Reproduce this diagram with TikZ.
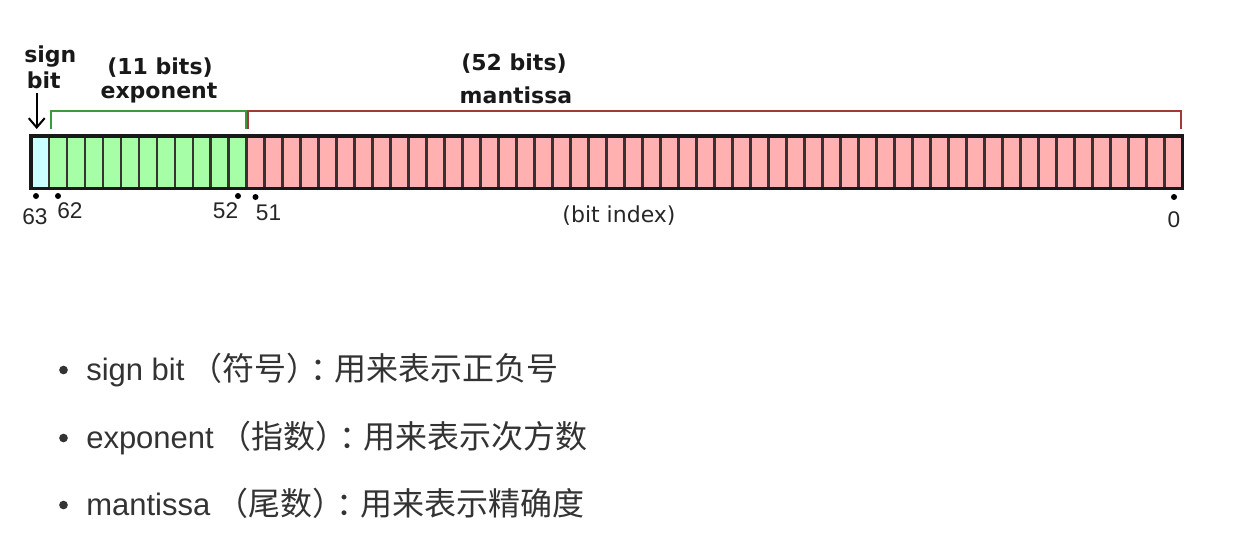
\documentclass[tikz,border=0pt]{standalone}
\usepackage{fontspec}
\setmainfont{Liberation Sans}
\newfontfamily\dvs{DejaVu Sans}
\newfontfamily\lib{Liberation Sans}
\newfontfamily\cjk{Noto Sans CJK SC}
\usetikzlibrary{arrows.meta}
\definecolor{signc}{HTML}{CCFFFF}
\definecolor{expc}{HTML}{A6FFA6}
\definecolor{manc}{HTML}{FFB0B0}
\definecolor{gbr}{HTML}{3C9A3C}
\definecolor{rbr}{HTML}{A33A3A}
\definecolor{txt}{HTML}{333333}
\definecolor{divc}{HTML}{3A3232}
\newcommand{\zh}[1]{{\cjk\fontsize{24}{28}\selectfont #1}}
\newcommand{\zhcolon}{{\cjk\fontsize{24}{28}\selectfont\kern-6pt\makebox[18pt][l]{：}}}
\begin{document}
\begin{tikzpicture}[x=0.75pt,y=-0.75pt,
  cell/.style={draw=divc, line width=2.1pt, inner sep=0pt, outer sep=0pt,
    minimum width=13.4925pt, minimum height=39.45pt},
  bracket/.style={line width=1.5pt},
  hdr/.style={font=\dvs\bfseries\fontsize{16.5}{19}\selectfont, text=black!90, inner sep=0pt},
  idx/.style={font=\lib\fontsize{17}{20}\selectfont, text=black!85, inner sep=0pt, anchor=base},
  dotm/.style={circle, fill=black, inner sep=0pt, minimum size=4.5pt},
  bul/.style={circle, fill=txt, inner sep=0pt, minimum size=6.5pt},
  item/.style={font=\lib\fontsize{23.25}{28}\selectfont, text=txt, inner sep=0pt, anchor=base west}
]
\useasboundingbox (0,0) rectangle (1255,546);
\fill[white] (0,0) rectangle (1255,546);
% cells
\foreach \i in {0,...,63}{
  \pgfmathsetmacro\cx{31+(\i+0.5)*17.9891}
  \ifnum\i=0 \def\fc{signc}\else\ifnum\i<12 \def\fc{expc}\else\def\fc{manc}\fi\fi
  \node[cell, fill=\fc] (c\i) at (\cx,162) {};
}
\draw[line width=2.7pt, black!90] (c0.north west) rectangle (c63.south east);
% brackets
\draw[bracket, gbr] ([xshift=1.3pt,yshift=5pt]c1.north west) -- ++(0,-18.5)
  -| ([xshift=-0.7pt,yshift=5pt]c11.north east);
\draw[bracket, rbr] ([xshift=1.05pt,yshift=5pt]c12.north west) -- ++(0,-18.5)
  -| ([xshift=-1pt,yshift=5pt]c63.north east);
% sign bit label and arrow
\node[hdr, anchor=base west] (sgn) at (24,62) {sign};
\node[hdr, anchor=base west] (sbit) at (26.5,88) {bit};
\coordinate (astart) at (36.7,93);
\coordinate (atip) at (36.7,129);
\draw[line width=1.5pt, -{Straight Barb[length=7pt,width=12pt]}] (astart) -- (atip);
% headers
\node[hdr, anchor=base] (eb) at (160,74) {(11 bits)};
\node[hdr, anchor=base] (en) at (159,98) {exponent};
\node[hdr, anchor=base] (mb) at (514,70) {(52 bits)};
\node[hdr, anchor=base] (mn) at (516,103) {mantissa};
% bit index marks
\node[dotm] (d63) at (36,196) {};
\node[idx] (l63) at (35,224) {63};
\node[dotm] (d62) at (58,196) {};
\node[idx] (l62) at (70,218) {62};
\node[dotm] (d52) at (238,196) {};
\node[idx] (l52) at (225.5,218) {52};
\node[dotm] (d51) at (255.5,197) {};
\node[idx] (l51) at (268.5,220) {51};
\node[dotm] (d0) at (1174,197) {};
\node[idx] (l0) at (1174,227) {0};
\node[font=\dvs\fontsize{16.5}{19}\selectfont, text=black!85, anchor=base, inner sep=0pt] (bi) at (619,222) {(bit index)};
% bullet list
\node[bul] (b1) at (63.5,370) {};
\node[item] (t1) at (86,380) {sign bit\kern4.5pt\zh{（符号）}\zhcolon\zh{用来表示正负号}};
\node[bul] (b2) at (63.5,438) {};
\node[item] (t2) at (86,448) {exponent\kern4.5pt\zh{（指数）}\zhcolon\zh{用来表示次方数}};
\node[bul] (b3) at (63.5,505) {};
\node[item] (t3) at (86,515) {mantissa\kern4.5pt\zh{（尾数）}\zhcolon\zh{用来表示精确度}};
\end{tikzpicture}
\end{document}
